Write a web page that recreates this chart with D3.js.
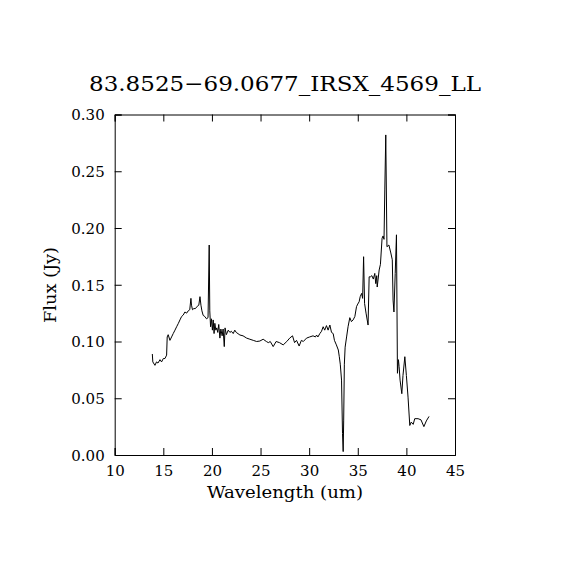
<!DOCTYPE html>
<html><head><meta charset="utf-8">
<script src="https://cdn.jsdelivr.net/npm/d3@7"></script>
<style>body{margin:0;background:#fff}svg{display:block}text{font-family:"DejaVu Serif",serif;fill:#000}</style>
</head><body>
<script>
const title = "83.8525\u221269.0677_IRSX_4569_LL";
const xTicks = [10,15,20,25,30,35,40,45];
const yTicks = [0,0.05,0.10,0.15,0.20,0.25,0.30];
const wave = [13.87,13.92,14.14,14.3,14.45,14.66,14.82,15.0,15.17,15.34,15.40,15.5,15.68,15.85,16.02,16.2,16.37,16.55,16.71,16.88,17.05,17.22,17.4,17.56,17.72,17.84,17.9,18.0,18.14,18.3,18.49,18.65,18.77,18.87,18.97,19.1,19.27,19.44,19.6,19.72,19.78,19.86,19.95,20.05,20.13,20.22,20.3,20.4,20.5,20.6,20.7,20.82,20.92,21.05,21.15,21.27,21.35,21.48,21.68,21.85,22.0,22.19,22.35,22.5,22.88,23.2,23.57,23.9,24.25,24.6,24.93,25.27,25.6,25.8,26.0,26.3,26.6,26.95,27.33,27.7,28.0,28.29,28.5,28.7,28.97,29.2,29.4,29.73,30.05,30.4,30.65,30.76,30.9,31.1,31.27,31.44,31.6,31.78,31.95,32.13,32.3,32.47,32.6,32.8,33.0,33.1,33.2,33.33,33.43,33.5,33.55,33.62,33.7,33.85,34.0,34.18,34.35,34.52,34.7,34.87,35.0,35.14,35.25,35.4,35.5,35.6,35.7,35.85,36.06,36.17,36.3,36.45,36.6,36.75,36.85,36.95,37.0,37.2,37.33,37.5,37.6,37.7,37.78,37.88,38.0,38.2,38.4,38.55,38.63,38.72,38.85,38.98,39.08,39.18,39.25,39.35,39.53,39.65,39.84,40.0,40.17,40.35,40.5,40.7,40.86,41.2,41.5,41.8,42.05,42.33];
const flux = [0.089,0.082,0.079,0.082,0.081,0.084,0.082,0.085,0.085,0.088,0.104,0.106,0.101,0.104,0.107,0.110,0.113,0.116,0.119,0.122,0.1233,0.126,0.125,0.127,0.128,0.138,0.132,0.128,0.129,0.129,0.131,0.132,0.1395,0.132,0.127,0.123,0.122,0.120,0.121,0.185,0.127,0.113,0.120,0.110,0.119,0.107,0.116,0.110,0.112,0.108,0.115,0.103,0.111,0.105,0.111,0.0955,0.112,0.106,0.110,0.108,0.109,0.107,0.110,0.108,0.1057,0.105,0.103,0.102,0.101,0.100,0.1004,0.102,0.100,0.099,0.100,0.0955,0.100,0.099,0.097,0.100,0.103,0.105,0.099,0.101,0.096,0.101,0.100,0.103,0.104,0.105,0.104,0.1057,0.104,0.107,0.109,0.113,0.110,0.114,0.110,0.1145,0.108,0.107,0.101,0.097,0.0925,0.0866,0.080,0.066,0.019,0.003,0.030,0.080,0.095,0.104,0.113,0.121,0.1175,0.119,0.122,0.1307,0.133,0.135,0.1395,0.1424,0.138,0.1747,0.1336,0.125,0.1145,0.157,0.157,0.158,0.155,0.160,0.151,0.158,0.148,0.163,0.168,0.191,0.193,0.19,0.2335,0.282,0.1835,0.185,0.178,0.172,0.1365,0.126,0.160,0.194,0.072,0.084,0.078,0.066,0.054,0.070,0.0866,0.070,0.051,0.026,0.029,0.027,0.032,0.032,0.031,0.025,0.030,0.034];

const W = 570, H = 570;
const m = {left:114.7, right:455, top:114.5, bottom:455};
const x = d3.scaleLinear().domain([10,45]).range([m.left, m.right]);
const y = d3.scaleLinear().domain([0,0.30]).range([m.bottom, m.top]);

const svg = d3.select("body").append("svg").attr("width", W).attr("height", H);

// data line
const line = d3.line().x((d,i)=>x(wave[i])).y((d,i)=>y(flux[i]));
svg.append("path").attr("d", line(flux)).attr("fill","none").attr("stroke","#000").attr("stroke-width",1);

// axes with inward ticks
const tl = 7;
const gBottom = svg.append("g").attr("transform",`translate(0,${m.bottom})`)
  .call(d3.axisBottom(x).tickValues(xTicks).tickSize(-tl).tickPadding(10).tickFormat(d3.format("d")));
const gTop = svg.append("g").attr("transform",`translate(0,${m.top})`)
  .call(d3.axisTop(x).tickValues(xTicks).tickSize(-tl).tickFormat(""));
const gLeft = svg.append("g").attr("transform",`translate(${m.left},0)`)
  .call(d3.axisLeft(y).tickValues(yTicks).tickSize(-tl).tickPadding(10).tickFormat(d3.format(".2f")));
const gRight = svg.append("g").attr("transform",`translate(${m.right},0)`)
  .call(d3.axisRight(y).tickValues(yTicks).tickSize(-tl).tickFormat(""));
[gBottom,gTop,gLeft,gRight].forEach(g=>{
  g.selectAll("path,line").attr("stroke","#000").attr("stroke-width",1);
  g.selectAll("text").style("font-family","'DejaVu Serif',serif").style("font-size","15px").attr("fill","#000");
});
gBottom.selectAll("text").attr("dy","0.71em");
gLeft.selectAll("text").attr("dy","0.36em");

// title
svg.append("text").attr("x",285).attr("y",91).attr("text-anchor","middle")
  .attr("textLength",392).attr("lengthAdjust","spacingAndGlyphs")
  .style("font-size","21px").text(title);
// x label
svg.append("text").attr("x",285).attr("y",498).attr("text-anchor","middle")
  .attr("textLength",156).attr("lengthAdjust","spacingAndGlyphs")
  .style("font-size","16px").text("Wavelength (um)");
// y label
svg.append("text").attr("transform","translate(56,285) rotate(-90)").attr("text-anchor","middle")
  .attr("textLength",76).attr("lengthAdjust","spacingAndGlyphs")
  .style("font-size","16px").text("Flux (Jy)");
</script>
</body></html>
